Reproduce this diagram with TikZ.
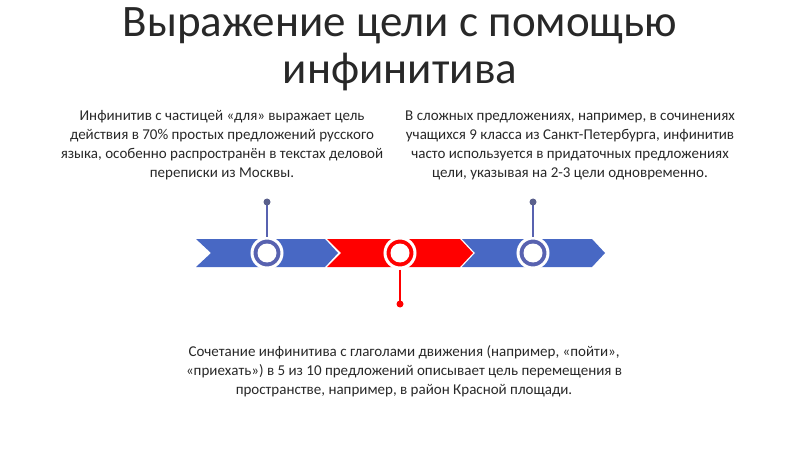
\documentclass[tikz,border=0pt]{standalone}
\usepackage{fontspec}
\setmainfont{Carlito}
\definecolor{cblue}{RGB}{72,104,196}
\definecolor{cring}{RGB}{88,98,176}
\definecolor{cred}{RGB}{255,0,0}
\definecolor{ctext}{RGB}{40,40,40}
\definecolor{cpin}{RGB}{90,96,140}
\begin{document}
\begin{tikzpicture}[x=1pt,y=-1pt,
  body/.style={font=\fontsize{15}{19}\selectfont,text=ctext,align=center},
  ring/.style={circle,draw=white,line width=3pt,minimum size=30pt,inner sep=0pt},
]
\useasboundingbox (0,0) rectangle (800,449);
\node[font=\fontsize{45}{47}\selectfont,text=ctext,align=center] (title) at (400,49) {Выражение цели с помощью\\инфинитива};
\node[body] (t1) at (222,145) {Инфинитив с частицей «для» выражает цель\\действия в 70\% простых предложений русского\\языка,  особенно распространён в текстах деловой\\переписки из Москвы.};
\node[body] (t2) at (570,145) {В сложных предложениях, например, в сочинениях\\учащихся 9 класса из Санкт-Петербурга, инфинитив\\часто используется в придаточных предложениях\\цели,  указывая на 2-3  цели одновременно.};
\node[body] (t3) at (404,371) {Сочетание инфинитива с глаголами движения (например, «пойти»,\\«приехать») в 5 из 10 предложений  описывает  цель перемещения в\\пространстве, например, в  район Красной площади.};
% chevrons
\fill[cblue] (196,239) -- (325,239) -- (338,253) -- (325,267) -- (196,267) -- (211,253) -- cycle;
\fill[cred] (327,239) -- (460,239) -- (473,253) -- (460,267) -- (327,267) -- (341,253) -- cycle;
\fill[cblue] (462,239) -- (592,239) -- (605,253) -- (592,267) -- (462,267) -- (475,253) -- cycle;
% pins
\coordinate (p1) at (267,202);
\coordinate (p2) at (400,304);
\coordinate (p3) at (533,202);
\node[ring,fill=cring] (c1) at (267,253) {};
\node[ring,fill=cred] (c2) at (400,253) {};
\node[ring,fill=cring] (c3) at (533,253) {};
\fill[white] (c1) circle (9.5); \fill[white] (c2) circle (9.5); \fill[white] (c3) circle (9.5);
\draw[cring,line width=1.2pt] (c1.north) -- (p1); \fill[cpin] (p1) circle (3.5);
\draw[cred,line width=1.2pt] (c2.south) -- (p2); \fill[cred] (p2) circle (3.5);
\draw[cring,line width=1.2pt] (c3.north) -- (p3); \fill[cpin] (p3) circle (3.5);
\end{tikzpicture}
\end{document}
